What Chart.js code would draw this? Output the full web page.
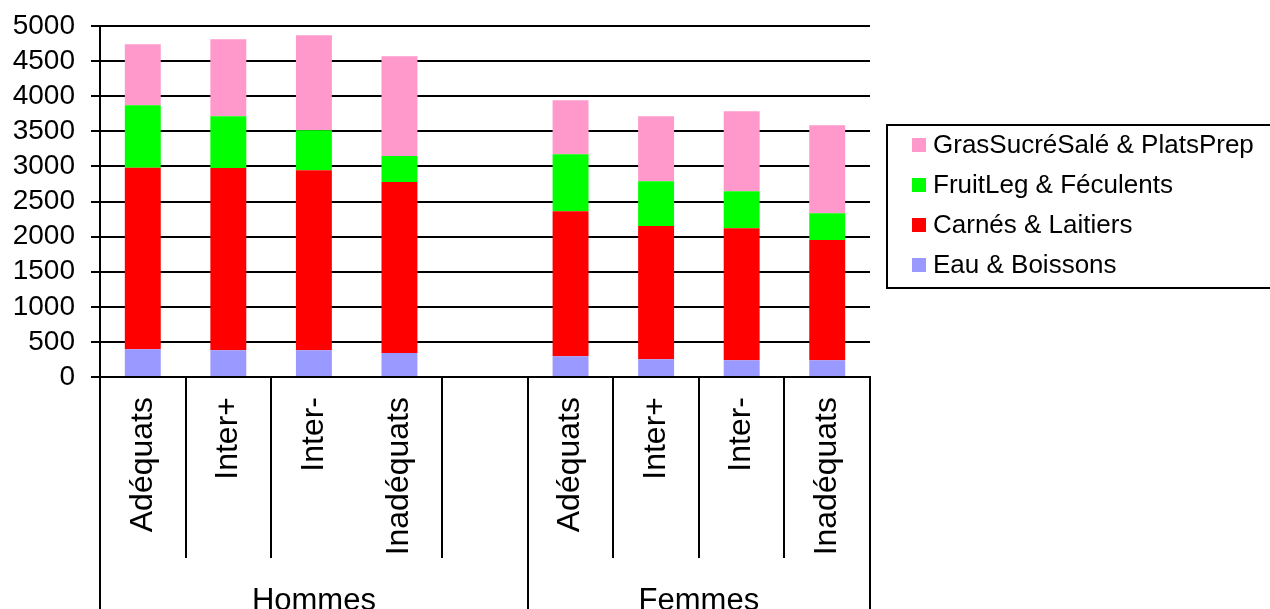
<!DOCTYPE html>
<html>
<head>
<meta charset="utf-8">
<script src="https://cdn.jsdelivr.net/npm/chart.js@4.4.1/dist/chart.umd.min.js"></script>
<style>
  html, body { margin: 0; padding: 0; background: #ffffff; }
  #wrap { width: 1270px; height: 609px; position: relative; }
</style>
</head>
<body>
<div id="wrap"><canvas id="chart"></canvas></div>
<script>
// Categories along the x axis (the blank slot separates the two groups)
const categories = ['Adéquats', 'Inter+', 'Inter-', 'Inadéquats', '', 'Adéquats', 'Inter+', 'Inter-', 'Inadéquats'];

// Stacked series, bottom to top
const eauBoissons       = [395, 380, 380, 342, null, 295, 252, 238, 238];
const carnesLaitiers    = [2585, 2597, 2564, 2436, null, 2065, 1899, 1880, 1714];
const fruitLegFeculents = [890, 736, 570, 370, null, 812, 637, 527, 380];
const grasSucreSale     = [870, 1097, 1353, 1420, null, 770, 926, 1140, 1253];

// Group labels under the categories (first and last category index of each)
const groupLabels = ['Hommes', 'Femmes'];
const groupFirst  = [0, 5];
const groupLast   = [4, 8];

// Category boundaries (by index of the category to their right) drawn without a divider
const unmarkedBoundaries = [3];

// Y axis ticks
const yMin = 0;
const yMax = 5000;
const yStep = 500;

const FONT = '"Liberation Sans", Arial, Helvetica, sans-serif';

const categoryDividers = {
  id: 'categoryDividers',
  afterDraw(chart) {
    const ctx = chart.ctx;
    const xs = chart.scales.x;
    const area = chart.chartArea;
    const n = categories.length;
    const half = (xs.getPixelForValue(1) - xs.getPixelForValue(0)) / 2;
    const edge = i => xs.getPixelForValue(i) - half;
    const shortEnd = area.bottom + 181;

    ctx.save();
    ctx.strokeStyle = '#000000';
    ctx.lineWidth = 2;
    for (let i = 0; i <= n; i++) {
      const isGroupEdge = i === 0 || i === n || groupFirst.includes(i);
      if (!isGroupEdge && unmarkedBoundaries.includes(i)) continue;
      const x = Math.round(edge(i));
      ctx.beginPath();
      ctx.moveTo(x, area.bottom);
      ctx.lineTo(x, isGroupEdge ? chart.height : shortEnd);
      ctx.stroke();
    }

    ctx.fillStyle = '#000000';
    ctx.font = '31px ' + FONT;
    ctx.textAlign = 'center';
    ctx.textBaseline = 'alphabetic';
    groupLabels.forEach((label, g) => {
      const cx = (edge(groupFirst[g]) + edge(groupLast[g] + 1)) / 2;
      ctx.fillText(label, cx, chart.height + 1);
    });
    ctx.restore();
  }
};

const framedLegend = {
  id: 'framedLegend',
  afterDraw(chart) {
    const ctx = chart.ctx;
    const sets = chart.data.datasets.slice().reverse();
    const left = 887, top = 125, bottom = 288;
    ctx.save();
    ctx.strokeStyle = '#000000';
    ctx.lineWidth = 2;
    ctx.beginPath();
    ctx.moveTo(chart.width + 2, top);
    ctx.lineTo(left, top);
    ctx.lineTo(left, bottom);
    ctx.lineTo(chart.width + 2, bottom);
    ctx.stroke();

    ctx.font = '26px ' + FONT;
    ctx.textAlign = 'left';
    ctx.textBaseline = 'middle';
    sets.forEach((ds, k) => {
      const cy = 145 + k * 40;
      ctx.fillStyle = ds.backgroundColor;
      ctx.fillRect(912, cy - 7, 14, 14);
      ctx.fillStyle = '#000000';
      ctx.fillText(ds.label, 933, cy + 1);
    });
    ctx.restore();
  }
};

new Chart(document.getElementById('chart'), {
  type: 'bar',
  data: {
    labels: categories,
    datasets: [
      { label: 'Eau & Boissons', data: eauBoissons, backgroundColor: '#9999FF' },
      { label: 'Carnés & Laitiers', data: carnesLaitiers, backgroundColor: '#FF0000' },
      { label: 'FruitLeg & Féculents', data: fruitLegFeculents, backgroundColor: '#00FF00' },
      { label: 'GrasSucréSalé & PlatsPrep', data: grasSucreSale, backgroundColor: '#FF99CC' }
    ]
  },
  options: {
    responsive: true,
    maintainAspectRatio: false,
    animation: false,
    layout: { padding: { top: 26, right: 400, bottom: 0, left: 0 } },
    datasets: {
      bar: { barPercentage: 0.42, categoryPercentage: 1, borderWidth: 0 }
    },
    plugins: {
      legend: { display: false },
      tooltip: { enabled: false }
    },
    scales: {
      x: {
        stacked: true,
        afterFit(scale) { scale.height = 232; scale.paddingLeft = 0; scale.paddingRight = 0; },
        grid: { display: false, drawTicks: false },
        border: { display: true, color: '#000000', width: 2 },
        ticks: {
          autoSkip: false,
          maxRotation: 90,
          minRotation: 90,
          padding: 20,
          color: '#000000',
          font: { family: FONT, size: 32 }
        }
      },
      y: {
        stacked: true,
        min: yMin,
        max: yMax,
        afterFit(scale) { scale.width = 100; scale.paddingTop = 0; scale.paddingBottom = 0; },
        grid: { color: '#000000', lineWidth: 2, drawTicks: true, tickLength: 9, tickColor: '#000000' },
        border: { display: true, color: '#000000', width: 2 },
        ticks: {
          stepSize: yStep,
          autoSkip: false,
          padding: 16,
          color: '#000000',
          font: { family: FONT, size: 28 },
          callback: value => String(value)
        }
      }
    }
  },
  plugins: [categoryDividers, framedLegend]
});
</script>
</body>
</html>
